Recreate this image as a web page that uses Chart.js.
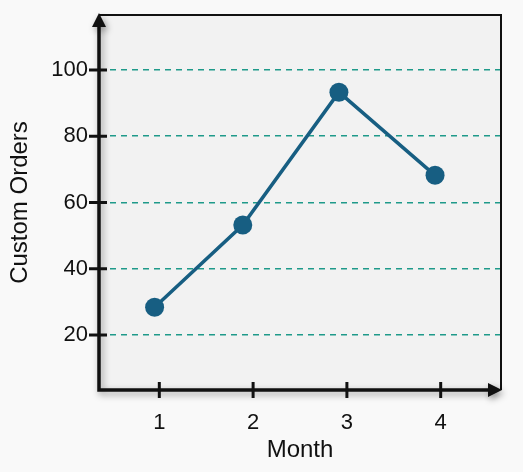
<!DOCTYPE html>
<html>
<head>
<meta charset="utf-8">
<script src="https://cdn.jsdelivr.net/npm/chart.js@4"></script>
<style>
  html, body { margin: 0; padding: 0; background: #f9f9f9; }
  canvas { display: block; }
</style>
</head>
<body>
<canvas id="chart" width="523" height="472"></canvas>
<script>
const months = [1, 2, 3, 4];
// points sit a little left of their month ticks in the source
const monthPos = [0.95, 1.89, 2.915, 3.94];
const orders = [28.4, 53.2, 93.3, 68.2];
const yTicks = [20, 40, 60, 80, 100];

const lineColor = "#175e82";
const gridColor = "#1f9a8a";
const ink = "#111111";
const fontFamily = "'Liberation Sans', Arial, sans-serif";

// axes, arrows, frame and tick marks
const frame = {
  id: "frame",
  beforeDraw(chart) {
    const { ctx, chartArea: a } = chart;
    ctx.save();
    ctx.fillStyle = "#f2f2f2";
    ctx.fillRect(a.left, a.top, a.right - a.left, a.bottom - a.top);
    ctx.restore();
  },
  afterDatasetsDraw(chart) {
    const { ctx, chartArea: a, scales } = chart;
    ctx.save();
    ctx.strokeStyle = ink;
    ctx.fillStyle = ink;

    // thin top/right border
    ctx.lineWidth = 2;
    ctx.beginPath();
    ctx.moveTo(a.left, a.top);
    ctx.lineTo(a.right, a.top);
    ctx.lineTo(a.right, a.bottom);
    ctx.stroke();

    // main axes with shadow
    ctx.shadowColor = "rgba(0,0,0,0.4)";
    ctx.shadowBlur = 7;
    ctx.shadowOffsetX = 2;
    ctx.shadowOffsetY = 3;
    ctx.lineWidth = 3.5;
    ctx.beginPath();
    ctx.moveTo(a.left, a.top + 8);
    ctx.lineTo(a.left, a.bottom);
    ctx.lineTo(a.right - 8, a.bottom);
    ctx.stroke();

    ctx.beginPath();
    ctx.moveTo(a.left, a.top - 2);
    ctx.lineTo(a.left - 7, a.top + 12);
    ctx.lineTo(a.left + 7, a.top + 12);
    ctx.closePath();
    ctx.fill();

    ctx.beginPath();
    ctx.moveTo(a.right + 1, a.bottom);
    ctx.lineTo(a.right - 13, a.bottom - 7);
    ctx.lineTo(a.right - 13, a.bottom + 7);
    ctx.closePath();
    ctx.fill();

    ctx.shadowColor = "transparent";
    ctx.lineWidth = 3;
    yTicks.forEach(v => {
      const y = scales.y.getPixelForValue(v);
      ctx.beginPath();
      ctx.moveTo(a.left - 10, y);
      ctx.lineTo(a.left + 8, y);
      ctx.stroke();
    });
    months.forEach(m => {
      const x = scales.x.getPixelForValue(m);
      ctx.beginPath();
      ctx.moveTo(x, a.bottom - 8);
      ctx.lineTo(x, a.bottom + 8);
      ctx.stroke();
    });
    ctx.restore();
  }
};

new Chart(document.getElementById("chart").getContext("2d"), {
  type: "line",
  data: {
    datasets: [{
      label: "Custom Orders",
      data: monthPos.map((m, i) => ({ x: m, y: orders[i] })),
      borderColor: lineColor,
      backgroundColor: lineColor,
      borderWidth: 3.5,
      pointRadius: 9.5,
      pointHoverRadius: 9.5,
      pointBorderWidth: 0,
      tension: 0
    }]
  },
  options: {
    responsive: false,
    animation: false,
    layout: { padding: { top: 15, right: 22, left: 0, bottom: 0 } },
    plugins: { legend: { display: false }, tooltip: { enabled: false } },
    scales: {
      x: {
        type: "linear",
        min: 0.357,
        max: 4.643,
        afterBuildTicks: s => { s.ticks = months.map(v => ({ value: v })); },
        afterFit: s => {
          s.height = 82;
          s.paddingLeft = 0;
          s.paddingRight = 0;
        },
        grid: { display: false },
        border: { display: false },
        ticks: {
          color: ink,
          padding: 12,
          font: { family: fontFamily, size: 22 }
        },
        title: {
          display: true,
          text: "Month",
          color: ink,
          padding: { top: 0, bottom: 7.6 },
          font: { family: fontFamily, size: 24 }
        }
      },
      y: {
        min: 3.4,
        max: 116.6,
        afterBuildTicks: s => { s.ticks = yTicks.map(v => ({ value: v })); },
        afterFit: s => {
          s.width = 99;
          s.paddingTop = 0;
          s.paddingBottom = 0;
        },
        grid: {
          color: gridColor,
          lineWidth: 1.5,
          drawTicks: false
        },
        border: { display: false, dash: [6, 5] },
        ticks: {
          color: ink,
          padding: 11,
          font: { family: fontFamily, size: 22 }
        },
        title: {
          display: true,
          text: "Custom Orders",
          color: ink,
          padding: 6,
          font: { family: fontFamily, size: 24 }
        }
      }
    }
  },
  plugins: [frame]
});
</script>
</body>
</html>
